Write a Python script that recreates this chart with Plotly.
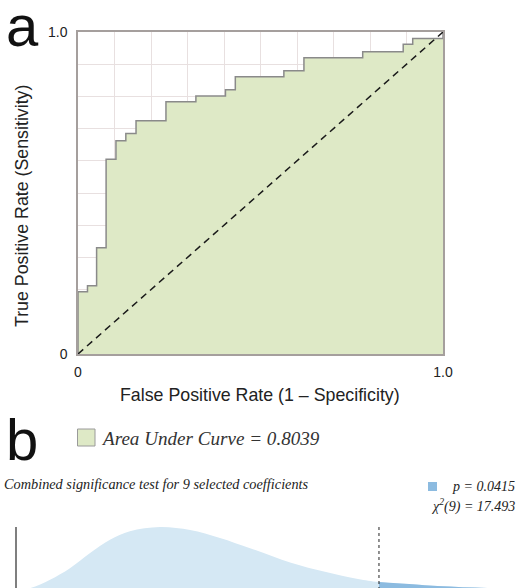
import plotly.graph_objects as go

# ---------------- data ----------------
# ROC curve corner points (used with a vertical-then-horizontal step shape)
roc_fpr = [0.0, 0.026, 0.051, 0.077, 0.104, 0.131, 0.159, 0.241, 0.323, 0.404,
           0.431, 0.564, 0.619, 0.780, 0.891, 0.917, 1.0, 1.0]
roc_tpr = [0.0, 0.193, 0.212, 0.330, 0.605, 0.662, 0.685, 0.724, 0.783, 0.801,
           0.821, 0.861, 0.880, 0.920, 0.939, 0.962, 0.980, 1.0]
chance_x = [0.0, 1.0]
chance_y = [0.0, 1.0]
auc_value = 0.8039

# Chi-square(9) null density
chi_x = [0.0, 0.67, 1.64, 2.60, 3.57, 4.53, 5.49, 6.94, 8.39, 9.83, 11.28,
         13.25, 14.89, 16.48, 17.493, 19.71, 22.12, 24.2]
chi_density = [0.0, 0.003, 0.017, 0.036, 0.061, 0.083, 0.097, 0.104, 0.099,
               0.086, 0.069, 0.045, 0.030, 0.018, 0.013, 0.008, 0.004, 0.002]
chi_df = 9
chi_stat = 17.493
p_value = 0.0415
n_coef = 9

# ---------------- figure ----------------
W, H = 518, 588


def px(xp):
    return xp / W


def py(yp):
    return 1 - yp / H


fig = go.Figure()

# ROC area + curve
fig.add_trace(go.Scatter(
    x=roc_fpr, y=roc_tpr, mode="lines",
    line=dict(color="#8a8a8a", width=1.5, shape="vh"),
    fill="tozeroy", fillcolor="#dee9c6",
    xaxis="x", yaxis="y", hoverinfo="skip", showlegend=False))
# chance diagonal
fig.add_trace(go.Scatter(
    x=chance_x, y=chance_y, mode="lines",
    line=dict(color="#1a1a1a", width=1.5, dash="7px,5px"),
    xaxis="x", yaxis="y", hoverinfo="skip", showlegend=False))

# chi-square density
fig.add_trace(go.Scatter(
    x=chi_x, y=chi_density, mode="lines",
    line=dict(width=0, shape="spline", color="#d5e8f4"),
    fill="tozeroy", fillcolor="#d5e8f4",
    xaxis="x2", yaxis="y2", hoverinfo="skip", showlegend=False))
tail_x = [x for x in chi_x if x >= chi_stat]
tail_y = [d for x, d in zip(chi_x, chi_density) if x >= chi_stat]
fig.add_trace(go.Scatter(
    x=tail_x, y=tail_y, mode="lines",
    line=dict(width=0, shape="spline", color="#8cbbe0"),
    fill="tozeroy", fillcolor="#8cbbe0",
    xaxis="x2", yaxis="y2", hoverinfo="skip", showlegend=False))

peak = max(chi_density)
shapes = [
    dict(type="line", xref="x2", yref="y2", x0=0, x1=0, y0=0, y1=peak,
         line=dict(color="#555555", width=1.5)),
    dict(type="line", xref="x2", yref="y2", x0=chi_stat, x1=chi_stat, y0=0, y1=peak,
         line=dict(color="#222222", width=1, dash="dot")),
    # legend swatches
    dict(type="rect", xref="paper", yref="paper",
         x0=px(77.5), x1=px(95), y0=py(446), y1=py(429),
         fillcolor="#dee9c6", line=dict(color="#9a9a9a", width=1)),
    dict(type="rect", xref="paper", yref="paper",
         x0=px(428), x1=px(437), y0=py(491), y1=py(482),
         fillcolor="#8cbbe0", line=dict(width=0)),
]

sans = "Liberation Sans, Arial, sans-serif"
serif = "Liberation Serif, Times New Roman, serif"

annotations = [
    dict(text="a", x=px(4), y=py(60), xanchor="left", yanchor="bottom",
         font=dict(family=sans, size=58, color="#111111")),
    dict(text="b", x=px(4), y=py(474), xanchor="left", yanchor="bottom",
         font=dict(family=sans, size=58, color="#111111")),
    dict(text="True Positive Rate (Sensitivity)", x=px(22), y=py(206),
         xanchor="center", yanchor="middle", textangle=-90,
         font=dict(family=sans, size=17.8, color="#222222")),
    dict(text="False Positive Rate (1 \u2013 Specificity)", x=px(260), y=py(395),
         xanchor="center", yanchor="middle",
         font=dict(family=sans, size=17.8, color="#222222")),
    dict(text=f"<i>Area Under Curve = {auc_value:.4f}</i>", x=px(99), y=py(438),
         xanchor="left", yanchor="middle",
         font=dict(family=serif, size=19.1, color="#333333")),
    dict(text=f"<i>Combined significance test for {n_coef} selected coefficients</i>",
         x=px(2), y=py(484), xanchor="left", yanchor="middle",
         font=dict(family=serif, size=14.3, color="#222222")),
    dict(text=f"<i>p = {p_value:.4f}</i>", x=px(517), y=py(486),
         xanchor="right", yanchor="middle",
         font=dict(family=serif, size=14, color="#222222")),
    dict(text=f"<i>\u03c7<sup>2</sup>({chi_df}) = {chi_stat:.3f}</i>", x=px(517), y=py(505),
         xanchor="right", yanchor="middle",
         font=dict(family=serif, size=14, color="#222222")),
]
for a in annotations:
    a.update(xref="paper", yref="paper", showarrow=False)

axis_line = "#a59f9d"
grid = "#e8e0e0"

fig.update_layout(
    width=W, height=H,
    margin=dict(l=0, r=0, t=0, b=0, autoexpand=False),
    paper_bgcolor="white", plot_bgcolor="white",
    showlegend=False,
    xaxis=dict(domain=[px(78), px(443)], range=[0, 1], anchor="y",
               tickvals=[0, 1], ticktext=["0", "1.0"], ticks="",
               showgrid=False, zeroline=False, automargin=False,
               showline=True, mirror=True, linecolor=axis_line, linewidth=1.5,
               minor=dict(dtick=0.1, showgrid=True, gridcolor=grid, gridwidth=1),
               tickfont=dict(family=sans, size=14, color="#222222"),
               ticklabelstandoff=4),
    yaxis=dict(domain=[py(354), py(32)], range=[0, 1], anchor="x",
               tickvals=[0, 1], ticktext=["0", "1.0"], ticks="",
               showgrid=False, zeroline=False, automargin=False,
               showline=True, mirror=True, linecolor=axis_line, linewidth=1.5,
               minor=dict(dtick=0.1, showgrid=True, gridcolor=grid, gridwidth=1),
               tickfont=dict(family=sans, size=14, color="#222222"),
               ticklabelstandoff=6),
    xaxis2=dict(domain=[0, 1], range=[-16 / 20.75, (W - 16) / 20.75], anchor="y2",
                visible=False),
    yaxis2=dict(domain=[0, py(520)], range=[0.0033, 0.1155], anchor="x2",
                visible=False),
    shapes=shapes,
    annotations=annotations,
)

fig.write_html(
    "out.html",
    config={"displayModeBar": False},
    post_script="document.body.style.margin='0';document.body.style.overflow='hidden';",
)
